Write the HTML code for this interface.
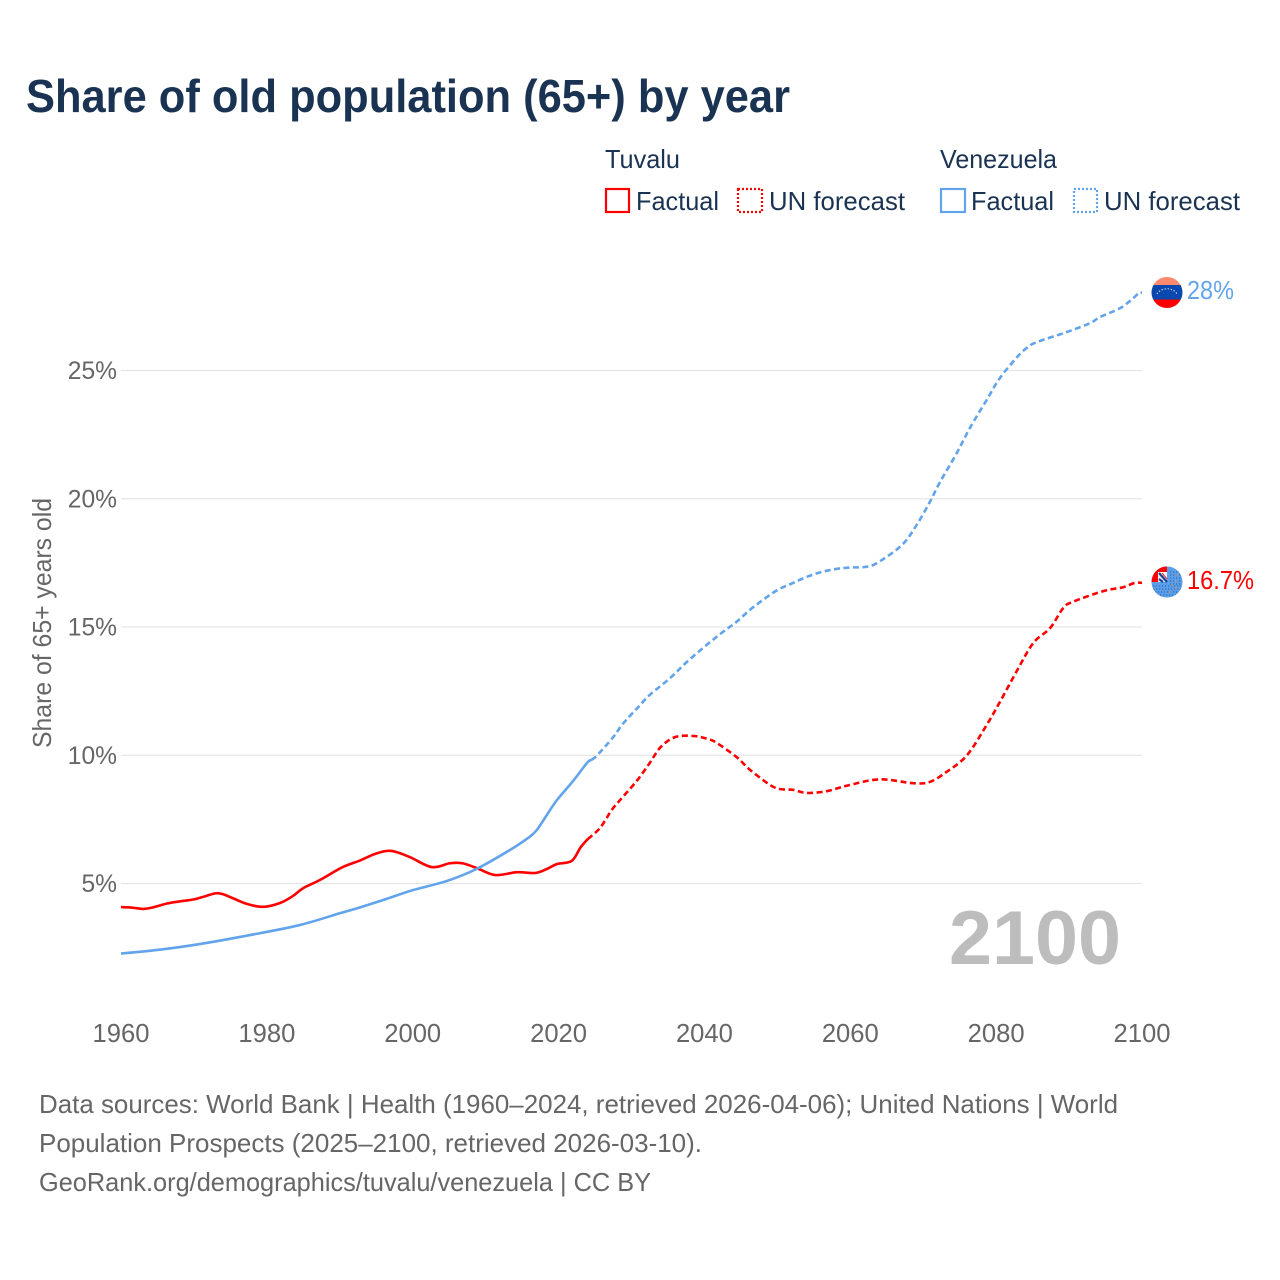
<!DOCTYPE html>
<html lang="en">
<head>
<meta charset="utf-8">
<title>Share of old population (65+) by year</title>
<style>
html,body{margin:0;padding:0;background:#fff;width:1280px;height:1280px;overflow:hidden}
svg{display:block;font-family:"Liberation Sans",sans-serif}
</style>
</head>
<body>
<svg id="chart" xmlns="http://www.w3.org/2000/svg" width="1280" height="1280" viewBox="0 0 1280 1280">
  <defs>
    <clipPath id="clip-ve"><circle cx="1167" cy="292.5" r="15.5"/></clipPath>
    <clipPath id="clip-tv"><circle cx="1167" cy="582" r="15.5"/></clipPath>
  </defs>
  <rect width="1280" height="1280" fill="#fff"/>
  <text x="26" y="112" font-size="46" font-weight="700" fill="#1a3353" textLength="764" lengthAdjust="spacingAndGlyphs">Share of old population (65+) by year</text>

  <g font-size="26" fill="#1a3353">
    <text x="605" y="168" textLength="75" lengthAdjust="spacingAndGlyphs">Tuvalu</text>
    <rect x="606" y="189" width="23" height="23" fill="none" stroke="#ff0000" stroke-width="2.2"/>
    <text x="636" y="210" textLength="83" lengthAdjust="spacingAndGlyphs">Factual</text>
    <rect x="738" y="189" width="24" height="23" fill="none" stroke="#ff0000" stroke-width="2.2" stroke-dasharray="2 2"/>
    <text x="769" y="210" textLength="136" lengthAdjust="spacingAndGlyphs">UN forecast</text>
    <text x="940" y="168" textLength="117" lengthAdjust="spacingAndGlyphs">Venezuela</text>
    <rect x="941" y="189" width="24" height="23" fill="none" stroke="#62a4ec" stroke-width="2.2"/>
    <text x="971" y="210" textLength="83" lengthAdjust="spacingAndGlyphs">Factual</text>
    <rect x="1074" y="189" width="23" height="23" fill="none" stroke="#62a4ec" stroke-width="2.2" stroke-dasharray="2 2"/>
    <text x="1104" y="210" textLength="136" lengthAdjust="spacingAndGlyphs">UN forecast</text>
  </g>

  <g id="grid"></g>
  <g id="yticks"></g>
  <g id="xticks"></g>
  <text transform="translate(51,748) rotate(-90)" font-size="26" fill="#666" textLength="250" lengthAdjust="spacingAndGlyphs">Share of 65+ years old</text>

  <text x="949" y="964" font-size="76" font-weight="700" fill="#bdbdbd" textLength="172" lengthAdjust="spacingAndGlyphs">2100</text>

  <g id="series"></g>

  <g clip-path="url(#clip-ve)">
    <rect x="1150" y="276" width="34" height="10" fill="#ff8a6e"/>
    <rect x="1150" y="285" width="34" height="14.5" fill="#0a47ae"/>
    <rect x="1150" y="299.5" width="34" height="10" fill="#ff0000"/>
    <path d="M1157 294 A11 9 0 0 1 1177 294" fill="none" stroke="#dfe8f5" stroke-width="1.1" stroke-dasharray="1.3 1.8"/>
  </g>

  <g clip-path="url(#clip-tv)">
    <rect x="1150" y="565" width="34" height="34" fill="#5a9fe8"/>
    <rect x="1150" y="565" width="17" height="17" fill="#ff0000"/>
    <rect x="1158" y="572" width="9" height="10" fill="#f4f4f8"/>
    <path d="M1159 573 L1167 582 M1159 579 L1163 582" stroke="#1c3f94" stroke-width="2.2"/>
    <path d="M1162 573 L1167 579" stroke="#e04040" stroke-width="1.2"/>
    <g fill="none" stroke="#2d6bc0" stroke-width="1.2" stroke-dasharray="1.2 1.8">
      <path d="M1153 586 H1181 M1153 589 H1181 M1155 592 H1179 M1157 595 H1177"/>
      <path d="M1170 572 H1181 M1170 575 H1182 M1170 578 H1182 M1170 581 H1182 M1170 584 H1182"/>
    </g>
    <g fill="#f0945c"><circle cx="1177" cy="575" r=".8"/><circle cx="1176" cy="581" r=".8"/><circle cx="1172" cy="585" r=".8"/><circle cx="1176" cy="588" r=".8"/><circle cx="1170" cy="592" r=".8"/></g>
  </g>

  <text x="1187" y="299" font-size="26" fill="#62a4ec" textLength="47" lengthAdjust="spacingAndGlyphs">28%</text>
  <text x="1187" y="589" font-size="26" fill="#ff0000" textLength="67" lengthAdjust="spacingAndGlyphs">16.7%</text>

  <g font-size="26" fill="#666">
    <text x="39" y="1113" textLength="1079" lengthAdjust="spacingAndGlyphs">Data sources: World Bank | Health (1960–2024, retrieved 2026-04-06); United Nations | World</text>
    <text x="39" y="1152" textLength="663" lengthAdjust="spacingAndGlyphs">Population Prospects (2025–2100, retrieved 2026-03-10).</text>
    <text x="39" y="1191" textLength="612" lengthAdjust="spacingAndGlyphs">GeoRank.org/demographics/tuvalu/venezuela | CC BY</text>
  </g>
</svg>
<script>
const xTicks = [1960, 1980, 2000, 2020, 2040, 2060, 2080, 2100];
const yTicks = [5, 10, 15, 20, 25];

const tuvaluFactualYears = [1960, 1961.5, 1963, 1964.4, 1966.3, 1968, 1970, 1971.5, 1973, 1974, 1975.4, 1977.3, 1979.5, 1981.8, 1983.5, 1985, 1987.3, 1990.4, 1992.8, 1995, 1997.1, 1999.6, 2002.6, 2005.1, 2006.8, 2008.8, 2011.3, 2014.3, 2016.8, 2018.5, 2019.8, 2021.8, 2023, 2024];
const tuvaluFactualValues = [4.08, 4.06, 4.01, 4.07, 4.22, 4.3, 4.38, 4.5, 4.62, 4.58, 4.42, 4.2, 4.09, 4.24, 4.5, 4.82, 5.14, 5.64, 5.9, 6.17, 6.27, 6.03, 5.64, 5.79, 5.79, 5.6, 5.33, 5.44, 5.41, 5.58, 5.76, 5.88, 6.4, 6.73];

const tuvaluForecastYears = [2024, 2025.7, 2027.3, 2028.8, 2030.8, 2032.5, 2034, 2036, 2038.5, 2040.5, 2041.7, 2044.4, 2046.3, 2049, 2050.4, 2052.2, 2054, 2056.8, 2059.5, 2064, 2068.6, 2070.9, 2073.2, 2076, 2078.7, 2080.5, 2082.9, 2085.1, 2087.4, 2089.2, 2090.5, 2094.7, 2097.4, 2099, 2100];
const tuvaluForecastValues = [6.73, 7.17, 7.87, 8.37, 9.03, 9.7, 10.32, 10.71, 10.75, 10.63, 10.48, 9.93, 9.42, 8.84, 8.68, 8.65, 8.53, 8.6, 8.81, 9.06, 8.91, 8.96, 9.35, 10.0, 11.18, 12.07, 13.32, 14.38, 14.96, 15.74, 15.98, 16.4, 16.55, 16.72, 16.72];

const venezuelaFactualYears = [1960, 1965, 1970.8, 1977.7, 1984.5, 1990, 1992.8, 1996, 2000, 2004.7, 2008.7, 2013.3, 2015.8, 2017, 2018.5, 2019.8, 2022, 2023.9, 2024.5];
const venezuelaFactualValues = [2.27, 2.41, 2.64, 2.99, 3.38, 3.84, 4.07, 4.36, 4.74, 5.1, 5.56, 6.3, 6.77, 7.08, 7.72, 8.26, 9.0, 9.7, 9.82];

const venezuelaForecastYears = [2024.5, 2025.3, 2027.5, 2028.8, 2030.8, 2032.5, 2035.3, 2037.6, 2040.3, 2042.5, 2044.4, 2046.2, 2048, 2050, 2052, 2054, 2056, 2058, 2060, 2062, 2063.7, 2067.1, 2069.1, 2070.9, 2072.3, 2074.6, 2076.4, 2078.7, 2080.5, 2082.9, 2084.2, 2085.6, 2089.7, 2092.9, 2094.2, 2097, 2098.8, 2099.6, 2100];
const venezuelaForecastValues = [9.82, 10.0, 10.71, 11.22, 11.84, 12.35, 13.01, 13.64, 14.3, 14.8, 15.2, 15.66, 16.05, 16.44, 16.7, 16.95, 17.14, 17.26, 17.32, 17.34, 17.5, 18.2, 18.98, 19.87, 20.65, 21.78, 22.76, 23.85, 24.7, 25.53, 25.88, 26.11, 26.5, 26.85, 27.08, 27.43, 27.82, 28.03, 28.03];

const NS = 'http://www.w3.org/2000/svg';
const xOf = function (year) { return 121 + (year - 1960) * (1142 - 121) / 140; };
const yOf = function (v) { return 883.5 - (v - 5) * 25.65; };

function smoothPath(years, values) {
  const p = years.map(function (yr, i) { return [xOf(yr), yOf(values[i])]; });
  let d = 'M' + p[0][0].toFixed(2) + ' ' + p[0][1].toFixed(2);
  for (let i = 0; i < p.length - 1; i++) {
    const a = p[Math.max(i - 1, 0)], b = p[i], c = p[i + 1], e = p[Math.min(i + 2, p.length - 1)];
    const c1x = b[0] + (c[0] - a[0]) / 6, c1y = b[1] + (c[1] - a[1]) / 6;
    const c2x = c[0] - (e[0] - b[0]) / 6, c2y = c[1] - (e[1] - b[1]) / 6;
    d += 'C' + c1x.toFixed(2) + ' ' + c1y.toFixed(2) + ' ' + c2x.toFixed(2) + ' ' + c2y.toFixed(2) + ' ' + c[0].toFixed(2) + ' ' + c[1].toFixed(2);
  }
  return d;
}

const gridGroup = document.getElementById('grid');
const yTickGroup = document.getElementById('yticks');
const xTickGroup = document.getElementById('xticks');
const seriesGroup = document.getElementById('series');

yTicks.forEach(function (v) {
  const line = document.createElementNS(NS, 'line');
  line.setAttribute('x1', xOf(1960));
  line.setAttribute('x2', xOf(2100));
  line.setAttribute('y1', yOf(v));
  line.setAttribute('y2', yOf(v));
  line.setAttribute('stroke', '#e6e6e6');
  line.setAttribute('stroke-width', '1.3');
  
  
  gridGroup.appendChild(line);

  const label = document.createElementNS(NS, 'text');
  label.setAttribute('x', 117);
  label.setAttribute('y', yOf(v) + 8.5);
  label.setAttribute('text-anchor', 'end');
  label.setAttribute('font-size', '24.6');
  label.setAttribute('fill', '#666');
  
  
  label.textContent = v + '%';
  yTickGroup.appendChild(label);
});

xTicks.forEach(function (yr) {
  const label = document.createElementNS(NS, 'text');
  label.setAttribute('x', xOf(yr));
  label.setAttribute('y', 1042);
  label.setAttribute('text-anchor', 'middle');
  label.setAttribute('font-size', '25.6');
  label.setAttribute('fill', '#666');
  
  
  label.textContent = yr;
  xTickGroup.appendChild(label);
});

function addLine(years, values, color, dashed, name) {
  const path = document.createElementNS(NS, 'path');
  path.setAttribute('d', smoothPath(years, values));
  path.setAttribute('fill', 'none');
  path.setAttribute('stroke', color);
  path.setAttribute('stroke-width', '2.6');
  path.setAttribute('stroke-linejoin', 'round');
  if (dashed) path.setAttribute('stroke-dasharray', '6 3.5');
  
  
  seriesGroup.appendChild(path);
}

addLine(venezuelaForecastYears, venezuelaForecastValues, '#62a4ec', true, 'line-venezuela-forecast');
addLine(tuvaluForecastYears, tuvaluForecastValues, '#ff0000', true, 'line-tuvalu-forecast');
addLine(tuvaluFactualYears, tuvaluFactualValues, '#ff0000', false, 'line-tuvalu-factual');
addLine(venezuelaFactualYears, venezuelaFactualValues, '#62a4ec', false, 'line-venezuela-factual');
</script>
</body>
</html>
